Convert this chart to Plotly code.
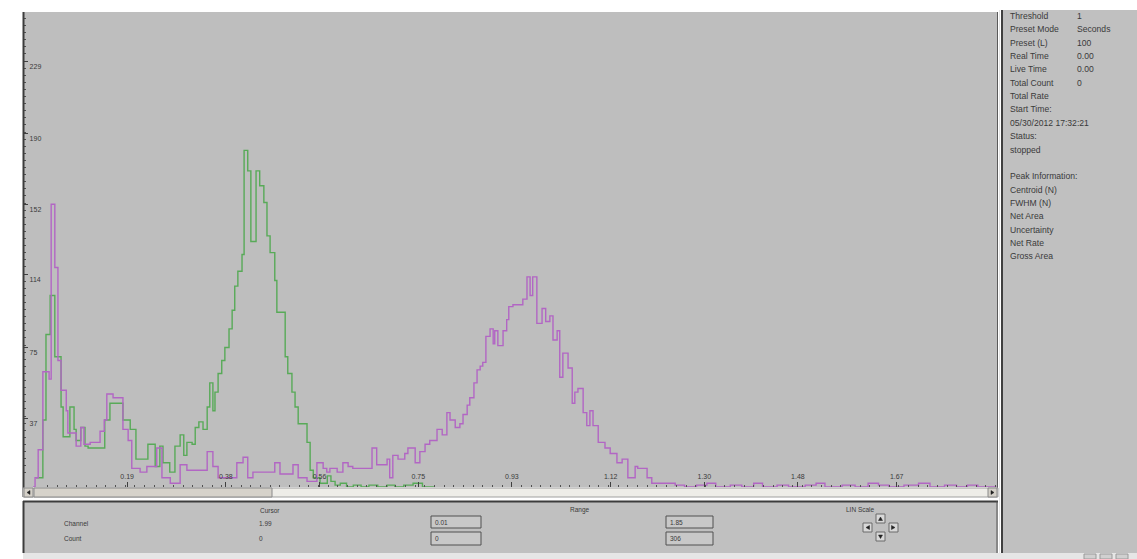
import plotly.graph_objects as go

# ---------------- spectrum data (energy bin left edges, counts per bin) ----------------
magenta_edges = [
    0.009, 0.013, 0.019, 0.028, 0.040, 0.044, 0.051, 0.057, 0.063, 0.073,
    0.076, 0.092, 0.101, 0.107, 0.119, 0.138, 0.146, 0.151, 0.163, 0.182,
    0.192, 0.199, 0.215, 0.228, 0.247, 0.257, 0.273, 0.292, 0.305, 0.344,
    0.355, 0.365, 0.401, 0.413, 0.422, 0.432, 0.474, 0.484, 0.509, 0.519,
    0.536, 0.555, 0.567, 0.574, 0.580, 0.594, 0.605, 0.615, 0.624, 0.661,
    0.670, 0.690, 0.695, 0.701, 0.711, 0.724, 0.730, 0.744, 0.753, 0.763,
    0.772, 0.786, 0.796, 0.805, 0.811, 0.821, 0.830, 0.836, 0.844, 0.849,
    0.857, 0.863, 0.869, 0.874, 0.880, 0.888, 0.894, 0.897, 0.903, 0.913,
    0.920, 0.924, 0.932, 0.951, 0.959, 0.965, 0.970, 0.978, 0.988, 0.995,
    1.003, 1.009, 1.017, 1.022, 1.028, 1.038, 1.046, 1.051, 1.057, 1.067,
    1.074, 1.080, 1.086, 1.096, 1.109, 1.119, 1.132, 1.142, 1.153, 1.167,
    1.172, 1.190, 1.199, 1.244, 1.262, 1.285, 1.305, 1.322, 1.350, 1.372,
    1.395, 1.412, 1.440, 1.462, 1.494, 1.515, 1.532, 1.565, 1.590, 1.615,
    1.635, 1.655, 1.684, 1.712, 1.734, 1.762, 1.785, 1.806, 1.826, 1.862,
]
magenta_counts = [
    0, 5, 20, 62, 58, 152, 118, 68, 52, 41,
    29, 22, 32, 23, 24, 30, 36, 50, 48, 31,
    25, 10, 8, 11, 21, 5, 2, 12, 9, 19,
    11, 5, 13, 16, 5, 8, 13, 7, 12, 5,
    3, 13, 10, 8, 10, 8, 13, 11, 10, 21,
    12, 15, 5, 17, 15, 18, 21, 13, 19, 23,
    25, 31, 28, 40, 36, 32, 34, 39, 44, 48,
    56, 63, 65, 67, 81, 85, 77, 84, 76, 84,
    90, 97, 98, 101, 113, 103, 113, 88, 96, 89,
    92, 79, 84, 59, 72, 64, 45, 51, 53, 40,
    33, 41, 33, 24, 21, 18, 13, 15, 5, 11,
    10, 5, 2, 1, 0, 1, 2, 0, 1, 0,
    2, 0, 1, 0, 1, 2, 0, 1, 0, 2,
    1, 0, 1, 2, 0, 1, 0, 1, 0,
]

green_edges = [
    0.015, 0.028, 0.034, 0.042, 0.051, 0.063, 0.067, 0.080, 0.088, 0.092,
    0.101, 0.109, 0.115, 0.147, 0.157, 0.182, 0.196, 0.207, 0.230, 0.244,
    0.253, 0.259, 0.272, 0.282, 0.292, 0.299, 0.305, 0.315, 0.321, 0.328,
    0.336, 0.344, 0.349, 0.355, 0.359, 0.365, 0.372, 0.378, 0.386, 0.392,
    0.397, 0.403, 0.411, 0.415, 0.422, 0.428, 0.438, 0.445, 0.453, 0.459,
    0.465, 0.474, 0.478, 0.494, 0.499, 0.507, 0.513, 0.519, 0.536, 0.542,
    0.548, 0.561, 0.575, 0.582, 0.590, 0.600, 0.612, 0.625, 0.640, 0.655,
    0.672, 0.690, 0.705, 0.722, 0.740, 0.758, 0.780,
]
green_counts = [
    5, 36, 82, 103, 70, 43, 27, 43, 31, 25,
    32, 22, 21, 36, 45, 36, 31, 15, 23, 11,
    22, 13, 8, 22, 28, 17, 24, 23, 32, 35,
    31, 43, 56, 41, 51, 61, 68, 75, 85, 95,
    108, 116, 125, 181, 170, 132, 170, 162, 153, 135,
    126, 111, 94, 70, 61, 51, 43, 34, 24, 9,
    5, 2, 6, 3, 1, 2, 0, 1, 0, 1,
    0, 1, 0, 1, 2, 0,
]

x_tick_values = [0.19, 0.38, 0.56, 0.75, 0.93, 1.12, 1.30, 1.48, 1.67]
x_tick_labels = ["0.19", "0.38", "0.56", "0.75", "0.93", "1.12", "1.30", "1.48", "1.67"]
y_tick_values = [37, 75, 114, 152, 190, 229]
y_tick_labels = ["37", "75", "114", "152", "190", "229"]

# status panel entries (label, value)
status_rows = [
    ("Threshold", "1"),
    ("Preset Mode", "Seconds"),
    ("Preset (L)", "100"),
    ("Real Time", "0.00"),
    ("Live Time", "0.00"),
    ("Total Count", "0"),
    ("Total Rate", ""),
    ("Start Time:", ""),
    ("05/30/2012 17:32:21", ""),
    ("Status:", ""),
    ("stopped", ""),
    ("", ""),
    ("Peak Information:", ""),
    ("Centroid (N)", ""),
    ("FWHM (N)", ""),
    ("Net Area", ""),
    ("Uncertainty", ""),
    ("Net Rate", ""),
    ("Gross Area", ""),
]

cursor_channel = "1.99"
cursor_count = "0"
range_low = ["0.01", "0"]
range_high = ["1.85", "306"]

# ---------------- page geometry ----------------
W, H = 1137, 559
FONT = "Liberation Sans, Arial, sans-serif"
TXT = "#3A3A3A"
PANEL = "#C0C0C0"


def fx(p):
    return p / W


def fy(p):
    return 1 - p / H


fig = go.Figure()

fig.add_trace(go.Scatter(
    x=green_edges, y=green_counts + [green_counts[-1]],
    mode="lines", line=dict(color="rgb(88,170,88)", width=1.4, shape="hv"),
    hoverinfo="skip", showlegend=False,
))
fig.add_trace(go.Scatter(
    x=magenta_edges, y=magenta_counts + [magenta_counts[-1]],
    mode="lines", line=dict(color="rgb(178,102,196)", width=1.4, shape="hv"),
    hoverinfo="skip", showlegend=False,
))

shapes = []


def rect(x0, y0, x1, y1, fill, line=None, lw=1, layer="above"):
    shapes.append(dict(
        type="rect", xref="paper", yref="paper",
        x0=fx(x0), x1=fx(x1), y0=fy(y1), y1=fy(y0),
        fillcolor=fill, layer=layer,
        line=dict(color=line or fill, width=lw if line else 0),
    ))


def seg(x0, y0, x1, y1, color, lw=1):
    shapes.append(dict(
        type="line", xref="paper", yref="paper",
        x0=fx(x0), x1=fx(x1), y0=fy(y0), y1=fy(y1),
        line=dict(color=color, width=lw),
    ))


def tri(points, color):
    path = "M " + " L ".join(f"{fx(a):.5f},{fy(b):.5f}" for a, b in points) + " Z"
    shapes.append(dict(type="path", xref="paper", yref="paper", path=path,
                       fillcolor=color, line=dict(color=color, width=0.5)))


# plot frame
seg(23.5, 12, 23.5, 497, "#3C3C3C", 2)
seg(997.5, 12, 997.5, 497, "#5A5A5A", 1)

# horizontal scroll bar under the spectrum
rect(23, 488, 998, 497, "#EEEDE8", "#A0A0A0")
rect(24, 488, 33, 497, "#D4D0C8", "#8A8A8A")
rect(34, 488, 272, 497, "#D6D2CA", "#8A8A8A")
rect(988, 488, 997, 497, "#D4D0C8", "#8A8A8A")
tri([(30, 490.5), (30, 494.5), (27, 492.5)], "#202020")
tri([(991, 490.5), (991, 494.5), (994, 492.5)], "#202020")

# right status panel
rect(1001, 10, 1137, 553, PANEL)
seg(999.5, 10, 999.5, 553, "#E4E4E4", 1)
seg(1002, 10, 1002, 553, "#404040", 2)

# lower control panel
rect(23, 501, 998, 553, PANEL)
seg(23, 501.5, 998, 501.5, "#3C3C3C", 2)
seg(23.5, 501, 23.5, 553, "#3C3C3C", 2)
seg(997, 501, 997, 553, "#505050", 1)

# bottom strip
rect(23, 553, 1137, 559, "#E6E6E6")
for bx in (1084, 1100, 1116):
    rect(bx, 554, bx + 12, 559, "#D0D0D0", "#9A9A9A")

# value boxes
for (bx0, bx1) in ((431, 481), (666, 713)):
    rect(bx0, 516, bx1, 528, "#C8C8C8", "#505050")
    rect(bx0, 532, bx1, 545, "#C8C8C8", "#505050")

# scale buttons
buttons = {
    "up": (876, 514, 885, 523),
    "left": (863, 523, 872, 532),
    "right": (889, 523, 898, 532),
    "down": (876, 532, 885, 541),
}
for (bx0, by0, bx1, by1) in buttons.values():
    rect(bx0, by0, bx1, by1, "#D8D8D8", "#6A6A6A")
tri([(878.5, 520.5), (882.5, 520.5), (880.5, 517)], "#202020")
tri([(878.5, 535), (882.5, 535), (880.5, 538.5)], "#202020")
tri([(869.5, 525.5), (869.5, 529.5), (866, 527.5)], "#202020")
tri([(891.5, 525.5), (891.5, 529.5), (895, 527.5)], "#202020")

annotations = []


def text(x, y, s, size=7, anchor="left"):
    annotations.append(dict(
        xref="paper", yref="paper", x=fx(x), y=fy(y), text=s,
        showarrow=False, xanchor=anchor, yanchor="middle",
        font=dict(family=FONT, size=size, color=TXT),
    ))


# status panel text
row_y0, row_step = 16, 13.35
for i, (label, value) in enumerate(status_rows):
    yy = row_y0 + i * row_step
    if label:
        text(1008, yy, label, size=8.6)
    if value:
        text(1075, yy, value, size=8.6)

# lower panel text
text(270, 510, "Cursor", size=6.5, anchor="center")
text(580, 510, "Range", size=6.5, anchor="center")
text(860, 509, "LIN Scale", size=6.5, anchor="center")
text(62, 523, "Channel", size=6.5)
text(62, 538, "Count", size=6.5)
text(257, 523, cursor_channel, size=6.5)
text(257, 538, cursor_count, size=6.5)
text(433, 522.5, range_low[0], size=6.5)
text(433, 538.5, range_low[1], size=6.5)
text(668, 522.5, range_high[0], size=6.5)
text(668, 538.5, range_high[1], size=6.5)

fig.update_layout(
    width=W, height=H,
    margin=dict(l=0, r=0, t=0, b=0),
    paper_bgcolor="white",
    plot_bgcolor="#BEBEBE",
    shapes=shapes,
    annotations=annotations,
    xaxis=dict(
        domain=[fx(23), fx(998)],
        range=[-0.0102, 1.8648],
        showgrid=False, zeroline=False, showline=False,
        tickmode="array", tickvals=x_tick_values, ticktext=x_tick_labels,
        ticks="inside", ticklen=5, tickcolor="#404040", tickwidth=1,
        ticklabelposition="inside",
        tickfont=dict(family=FONT, size=7, color=TXT),
        minor=dict(ticks="inside", ticklen=2, tickcolor="#505050",
                   tickmode="linear", tick0=0, dtick=0.0186),
        fixedrange=True,
    ),
    yaxis=dict(
        domain=[fy(487), fy(12)],
        range=[0, 255.4],
        showgrid=False, zeroline=False, showline=False,
        tickmode="array", tickvals=y_tick_values, ticktext=y_tick_labels,
        ticks="inside", ticklen=5, tickcolor="#404040", tickwidth=1,
        ticklabelposition="inside", ticklabelshift=5,
        tickfont=dict(family=FONT, size=7, color=TXT),
        minor=dict(ticks="inside", ticklen=3, tickcolor="#505050",
                   tickmode="linear", tick0=0, dtick=3.817),
        fixedrange=True,
    ),
)

fig.write_html("out.html", config={"displayModeBar": False})
